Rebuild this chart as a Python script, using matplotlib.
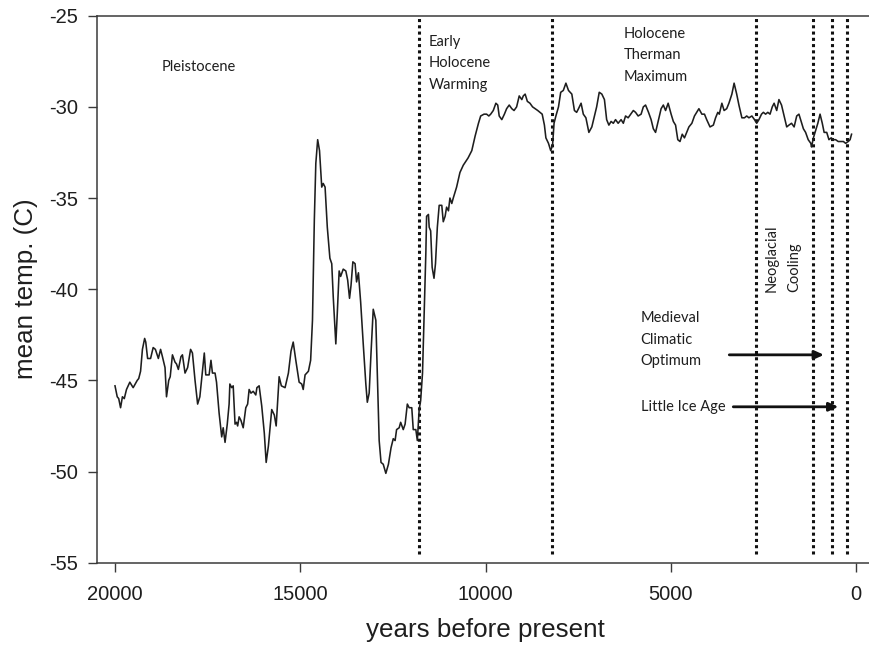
import matplotlib
matplotlib.use("Agg")
import matplotlib.pyplot as plt

# ---- data ----
years = [20000, 19940, 19900, 19850, 19800, 19750, 19690, 19600, 19510, 19400,
         19360, 19310, 19260, 19200, 19170, 19120, 19040, 18970, 18910, 18830,
         18770, 18720, 18650, 18610, 18550, 18510, 18450, 18380, 18340, 18290,
         18220, 18180, 18110, 18040, 17960, 17910, 17840, 17770, 17710, 17590,
         17550, 17460, 17410, 17370, 17300, 17260, 17190, 17120, 17080, 17030,
         16970, 16920, 16900, 16850, 16810, 16760, 16720, 16690, 16650, 16600,
         16540, 16470, 16420, 16380, 16330, 16270, 16200, 16170, 16110, 16040,
         15970, 15920, 15860, 15770, 15700, 15650, 15570, 15510, 15410, 15320,
         15250, 15190, 15120, 15030, 14960, 14920, 14870, 14780, 14720, 14670,
         14620, 14580, 14530, 14480, 14420, 14380, 14330, 14270, 14200, 14150,
         14110, 14040, 14000, 13950, 13910, 13840, 13770, 13720, 13670, 13630,
         13580, 13520, 13480, 13430, 13370, 13300, 13230, 13190, 13140, 13090,
         13030, 12960, 12910, 12870, 12820, 12760, 12690, 12620, 12550, 12490,
         12440, 12400, 12330, 12290, 12220, 12170, 12110, 12060, 11990, 11950,
         11880, 11840, 11790, 11750, 11700, 11650, 11610, 11590, 11540, 11520,
         11480, 11440, 11390, 11350, 11300, 11250, 11180, 11140, 11090, 11050,
         11000, 10960, 10910, 10870, 10780, 10690, 10600, 10470, 10370, 10280,
         10190, 10130, 10040, 9970, 9910, 9860, 9790, 9720, 9670, 9630,
         9560, 9490, 9430, 9360, 9290, 9230, 9160, 9090, 9020, 8980,
         8930, 8870, 8800, 8730, 8660, 8590, 8530, 8470, 8410, 8370,
         8300, 8240, 8190, 8150, 8100, 8030, 7970, 7900, 7830, 7760,
         7670, 7600, 7540, 7490, 7420, 7360, 7290, 7210, 7130, 7060,
         7000, 6930, 6860, 6790, 6730, 6670, 6610, 6550, 6490, 6420,
         6340, 6280, 6220, 6150, 6080, 6010, 5950, 5880, 5800, 5740,
         5680, 5600, 5530, 5470, 5410, 5330, 5260, 5200, 5140, 5070,
         4990, 4930, 4870, 4810, 4750, 4690, 4630, 4570, 4510, 4430,
         4360, 4300, 4240, 4160, 4090, 4030, 3940, 3850, 3790, 3730,
         3690, 3620, 3560, 3490, 3430, 3350, 3290, 3220, 3160, 3080,
         3010, 2950, 2890, 2810, 2740, 2680, 2620, 2550, 2500, 2440,
         2380, 2320, 2260, 2210, 2140, 2080, 2010, 1940, 1870, 1810,
         1740, 1670, 1600, 1540, 1480, 1420, 1360, 1290, 1220, 1200,
         1150, 1090, 1030, 970, 910, 860, 790, 730, 670, 610,
         550, 480, 400, 340, 280, 210, 160, 120]

temps = [-45.3, -45.9, -46.0, -46.5, -45.9, -46.0, -45.5, -45.1, -45.4, -45.0,
         -44.9, -44.5, -43.3, -42.7, -42.9, -43.8, -43.8, -43.2, -43.3, -43.8,
         -43.3, -43.7, -44.3, -45.9, -45.0, -44.8, -43.6, -44.0, -44.1, -44.4,
         -43.7, -43.6, -44.6, -44.3, -43.3, -43.5, -45.0, -46.3, -45.9, -43.5,
         -44.7, -44.7, -43.9, -44.6, -44.6, -45.1, -46.8, -48.1, -47.6, -48.4,
         -47.4, -46.3, -45.2, -45.4, -45.3, -47.4, -47.3, -47.5, -47.0, -47.2,
         -47.6, -46.5, -46.3, -45.5, -45.7, -45.6, -45.8, -45.4, -45.3, -46.4,
         -47.9, -49.5, -48.6, -46.6, -46.9, -47.5, -44.8, -45.3, -45.4, -44.6,
         -43.4, -42.9, -43.9, -45.1, -45.2, -45.5, -44.7, -44.5, -43.9, -41.7,
         -36.2, -33.1, -31.8, -32.4, -34.4, -34.2, -34.4, -36.6, -38.3, -38.6,
         -40.4, -43.0, -41.3, -39.0, -39.3, -38.9, -39.0, -39.5, -40.5, -39.8,
         -38.5, -38.6, -39.6, -39.1, -40.7, -43.0, -45.2, -46.2, -45.7, -43.5,
         -41.1, -41.7, -45.4, -48.3, -49.5, -49.6, -50.1, -49.6, -48.7, -48.2,
         -48.3, -47.7, -47.6, -47.3, -47.7, -47.4, -46.3, -46.5, -46.5, -47.7,
         -47.7, -48.3, -46.6, -46.1, -44.6, -41.0, -38.0, -36.0, -35.9, -36.6,
         -36.8, -38.8, -39.4, -38.6, -36.6, -35.4, -35.4, -36.3, -36.0, -35.5,
         -35.7, -35.0, -35.3, -35.0, -34.4, -33.6, -33.2, -32.8, -32.4, -31.6,
         -30.9, -30.5, -30.4, -30.4, -30.5, -30.4, -30.2, -29.8, -29.9, -30.5,
         -30.7, -30.4, -30.1, -29.9, -30.1, -30.2, -30.0, -29.4, -29.6, -29.4,
         -29.3, -29.7, -29.8, -30.0, -30.1, -30.2, -30.3, -30.4, -31.0, -31.7,
         -32.0, -32.4, -32.1, -30.9, -30.5, -30.0, -29.2, -29.1, -28.7, -29.1,
         -29.3, -30.2, -30.3, -30.1, -29.8, -30.4, -30.6, -31.4, -31.1, -30.5,
         -30.0, -29.2, -29.3, -29.6, -30.7, -31.0, -30.8, -30.9, -30.7, -30.9,
         -30.7, -30.9, -30.5, -30.6, -30.4, -30.2, -30.3, -30.5, -30.4, -30.0,
         -29.9, -30.3, -30.7, -31.2, -31.4, -30.7, -30.1, -29.9, -30.2, -29.8,
         -30.4, -30.8, -31.0, -31.8, -31.9, -31.5, -31.7, -31.4, -31.1, -30.9,
         -30.5, -30.3, -30.1, -30.4, -30.4, -30.7, -31.1, -31.0, -30.6, -30.3,
         -30.4, -29.8, -30.2, -30.1, -29.8, -29.3, -28.7, -29.3, -29.9, -30.6,
         -30.6, -30.5, -30.6, -30.5, -30.7, -30.9, -30.7, -30.4, -30.3, -30.4,
         -30.3, -30.4, -30.0, -29.8, -30.2, -29.6, -29.9, -30.5, -31.1, -31.0,
         -30.9, -31.1, -30.5, -30.4, -30.8, -31.2, -31.4, -31.8, -32.0, -32.2,
         -31.7, -31.3, -30.9, -30.4, -30.9, -31.4, -31.4, -31.8, -31.7, -31.8,
         -31.8, -31.9, -31.9, -31.9, -32.0, -31.9, -31.8, -31.5]

period_bounds = [11800, 8200, 2690, 1170, 660, 240]

x_ticks = [20000, 15000, 10000, 5000, 0]
y_ticks = [-25, -30, -35, -40, -45, -50, -55]

labels_text = ["Pleistocene", "Early\nHolocene\nWarming", "Holocene\nTherman\nMaximum",
               "Medieval\nClimatic\nOptimum", "Little Ice Age"]
label_years = [18730, 11525, 6262, 5811, 5811]
label_temps = [-27.81, -26.44, -26.00, -41.58, -46.46]

rot_labels = ["Neoglacial", "Cooling"]
rot_years = [2275, 1673]
rot_temp = -40.16

arrow_start = [3420, 3312]
arrow_end = [864, 475]
arrow_temps = [-43.6, -46.45]

# ---- figure ----
dark = "#1e1e1e"
fig = plt.figure(figsize=(8.7, 6.51), dpi=100)
ax = fig.add_axes([97/870, 1-562.7/651, (870-97)/870, (562.7-15.7)/651])

ax.plot(years, temps, color=dark, lw=1.15, zorder=3)

for b in period_bounds:
    ax.plot([b, b], [-54.5, -25], color="#111111", lw=2.2,
            linestyle=(0, (1, 1.05)), dash_capstyle="butt", zorder=2)

ax.set_xlim(20486, -378)
ax.set_ylim(-55, -25)
ax.set_xticks(x_ticks)
ax.set_yticks(y_ticks)
ax.set_xticklabels([str(v) for v in x_ticks])
ax.set_yticklabels([str(v) for v in y_ticks])

for s in ["left", "bottom", "top"]:
    ax.spines[s].set_color("#3a3a3a")
    ax.spines[s].set_linewidth(1.1)
ax.spines["right"].set_visible(False)

ax.tick_params(axis="both", direction="out", length=6.5, width=1.0,
               color="#3a3a3a", labelcolor=dark)
ax.tick_params(axis="x", pad=9.5, top=False)
ax.tick_params(axis="y", pad=7, right=False)
for lab in ax.get_xticklabels() + ax.get_yticklabels():
    lab.set_fontfamily("Liberation Sans")
    lab.set_fontsize(14.5)

ax.set_xlabel("years before present", fontfamily="Liberation Sans",
              fontsize=18.7, color=dark)
ax.set_ylabel("mean temp. (C)", fontfamily="Liberation Sans",
              fontsize=18.7, color=dark)
ax.xaxis.set_label_coords(0.503, -0.102)
ax.yaxis.set_label_coords(-0.0763, 0.501)

ann_font = dict(family=["Lato", "DejaVu Sans"], size=10.5, color=dark)

# each annotation line placed individually for exact spacing
line_step = 1.18  # degrees C between lines (~21.5 px)
for t, xv, yv in zip(labels_text, label_years, label_temps):
    for i, line in enumerate(t.split("\n")):
        ax.text(xv, yv - i * line_step, line, ha="left", va="center", **ann_font)

for t, xv in zip(rot_labels, rot_years):
    ax.text(xv, rot_temp, t, rotation=90, ha="center", va="bottom", **ann_font)

for xs, xe, yv in zip(arrow_start, arrow_end, arrow_temps):
    ax.annotate("", xy=(xe, yv), xytext=(xs, yv),
                arrowprops=dict(arrowstyle="-|>,head_length=0.55,head_width=0.25",
                                color="#111111", lw=2.0, shrinkA=0, shrinkB=0))

fig.savefig("out.png", dpi=100)
